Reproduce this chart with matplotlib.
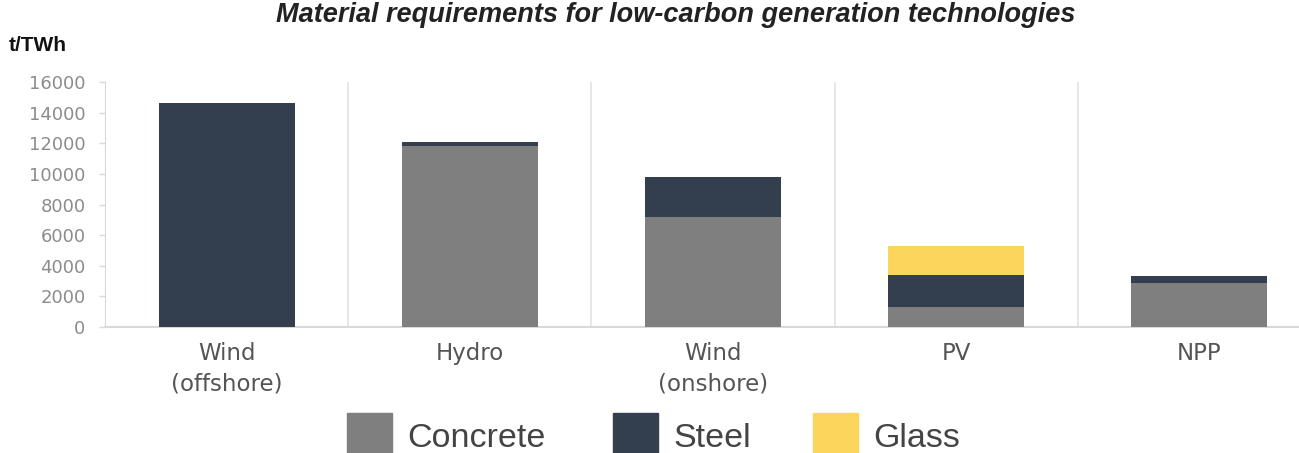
import matplotlib
matplotlib.use("Agg")
import matplotlib.pyplot as plt
from matplotlib import font_manager
from matplotlib.patches import Rectangle
import numpy as np

categories = ["Wind\n(offshore)", "Hydro", "Wind\n(onshore)", "PV", "NPP"]
concrete = [0, 11800, 7200, 1300, 2900]
steel = [14600, 300, 2600, 2100, 400]
glass = [0, 0, 0, 1900, 0]
yticks = [0, 2000, 4000, 6000, 8000, 10000, 12000, 14000, 16000]
series_names = ["Concrete", "Steel", "Glass"]

c_concrete = "#7f7f7f"
c_steel = "#333e4f"
c_glass = "#fcd55c"
colors = [c_concrete, c_steel, c_glass]


def has_font(name):
    try:
        font_manager.findfont(font_manager.FontProperties(family=name),
                              fallback_to_default=False)
        return True
    except Exception:
        return False


narrow = "Liberation Sans Narrow" if has_font("Liberation Sans Narrow") else None

W, H = 1299, 453
fig = plt.figure(figsize=(W / 100, H / 100), dpi=100)
plt.rcParams["font.family"] = ["DejaVu Sans"]

left, right = 105, 1321
bottom, top = 327, 82
ax = fig.add_axes([left / W, 1 - bottom / H, (right - left) / W, (bottom - top) / H])

x = np.arange(len(categories))
bw = 0.56
c = np.array(concrete)
s = np.array(steel)
g = np.array(glass)
ax.bar(x, c, bw, color=c_concrete, zorder=3)
ax.bar(x, s, bw, bottom=c, color=c_steel, zorder=3)
ax.bar(x, g, bw, bottom=c + s, color=c_glass, zorder=3)

ax.set_xlim(-0.5, len(categories) - 0.5)
ax.set_ylim(0, 16000)
ax.set_yticks(yticks)
ax.set_yticklabels([str(v) for v in yticks], color="#8c8c8c", fontsize=13)
ax.tick_params(axis="y", length=4, color="#d9d9d9", width=1, pad=10)
ax.set_xticks(x)
ax.set_xticklabels(categories, fontsize=16.5, color="#555555", linespacing=1.4)
ax.tick_params(axis="x", length=0, pad=11)

for sp in ["top", "right"]:
    ax.spines[sp].set_visible(False)
ax.spines["left"].set_color("#d9d9d9")
ax.spines["bottom"].set_color("#d9d9d9")
ax.spines["bottom"].set_linewidth(1.5)

# light separators between categories
for b in x[:-1] + 0.5:
    ax.axvline(b, color="#e3e3e3", linewidth=1.2, zorder=1)

fig.text(676 / W, 1 - 22 / H, "Material requirements for low-carbon generation technologies",
         ha="center", va="baseline", fontsize=19.5, fontweight="bold", fontstyle="italic",
         color="#222222", family=["Liberation Sans", "DejaVu Sans"])
if narrow:
    fig.text(9 / W, 1 - 51 / H, "t/TWh", ha="left", va="baseline", fontsize=20,
             fontweight="bold", color="#111111", family=[narrow, "DejaVu Sans"])
else:
    fig.text(9 / W, 1 - 51 / H, "t/TWh", ha="left", va="baseline", fontsize=15,
             fontweight="bold", color="#111111", family=["Liberation Sans", "DejaVu Sans"])

# legend: colour swatch followed by the series name
swatch_x = [347, 613, 813]
sw, sh = 45, 45
cy = 435
for name, col, sx in zip(series_names, colors, swatch_x):
    fig.patches.append(Rectangle((sx / W, 1 - (cy + sh / 2) / H), sw / W, sh / H,
                                 transform=fig.transFigure, color=col, figure=fig))
    fig.text((sx + sw + 15) / W, 1 - (cy + 12) / H, name, ha="left", va="baseline",
             fontsize=24.5, color="#444444", family=["Liberation Sans", "DejaVu Sans"])

fig.savefig("out.png", dpi=100)
